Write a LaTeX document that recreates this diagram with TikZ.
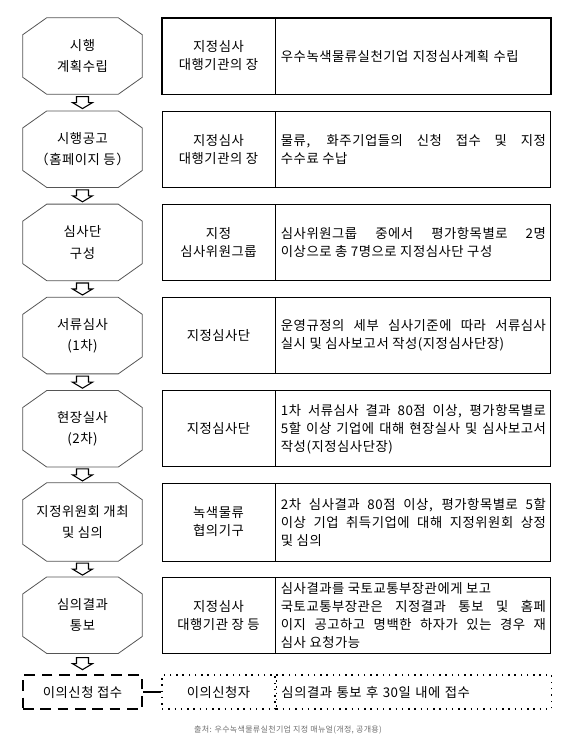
\documentclass[tikz,border=0pt]{standalone}
\usepackage{fontspec}
\setmainfont{Noto Sans CJK KR}[LetterSpace=4]
\usetikzlibrary{positioning, calc}
\definecolor{octline}{HTML}{555555}
\definecolor{notegray}{HTML}{707070}

\begin{document}
\begin{tikzpicture}[x=0.75pt, y=-0.75pt,
    every node/.style={font=\fontsize{10pt}{13.5pt}\selectfont},
    octa/.style={rectangle, minimum width=89.25pt, minimum height=57pt,
                 inner sep=0pt, align=center, font=\fontsize{10pt}{16pt}\selectfont},
    octline/.style={draw=octline, line width=0.6pt, line join=miter},
    who/.style={rectangle, draw, line width=0.7pt, minimum width=84.75pt,
                minimum height=57pt, align=center, inner sep=0pt},
    task/.style={rectangle, draw, line width=0.7pt, minimum width=206.25pt,
                 minimum height=57pt, text width=198.75pt, align=justify, inner sep=3.75pt},
    hollow/.style={draw, line width=0.8pt, fill=white, line join=miter},
    claim/.style={rectangle, draw, line width=1.8pt, dash pattern=on 8pt off 5pt,
                  minimum width=89.25pt, minimum height=25.5pt, inner sep=0pt},
    dots/.style={rectangle, draw, line width=1.1pt, dash pattern=on 1.1pt off 3.6pt,
                 minimum height=25.5pt, inner sep=3.75pt}
]
    % steps on the left
    \node[octa] (s1) at (82.5, 56) {시행\\계획수립};
    \node[octa] (s2) at (82.5, 149.2) {시행공고\\（홈페이지 등）};
    \node[octa] (s3) at (82.5, 242.4) {심사단\\구성};
    \node[octa] (s4) at (82.5, 335.6) {서류심사\\(1차)};
    \node[octa] (s5) at (82.5, 428.8) {현장실사\\(2차)};
    \node[octa, minimum height=58.5pt] (s6) at (82.5, 522) {지정위원회 개최\\및 심의};
    \node[octa] (s7) at (82.5, 615.2) {심의결과\\통보};
    \node[claim] (s8) at (82.5, 692) {이의신청 접수};
    \foreach \n in {s1,s2,s3,s4,s5,s6,s7}
        \draw[octline] ([xshift=18pt]\n.north west) -- ([xshift=-18pt]\n.north east)
            -- ([yshift=-12.75pt]\n.north east) -- ([yshift=12.75pt]\n.south east)
            -- ([xshift=-18pt]\n.south east) -- ([xshift=18pt]\n.south west)
            -- ([yshift=12.75pt]\n.south west) -- ([yshift=-12.75pt]\n.north west) -- cycle;

    % who is in charge
    \node[who] (w1) at (218.5, 56) {지정심사\\대행기관의 장};
    \node[who] (w2) at (218.5, 149.2) {지정심사\\대행기관의 장};
    \node[who] (w3) at (218.5, 242.4) {지정\\심사위원그룹};
    \node[who] (w4) at (218.5, 335.6) {지정심사단};
    \node[who] (w5) at (218.5, 428.8) {지정심사단};
    \node[who, minimum height=58.5pt] (w6) at (218.5, 522) {녹색물류\\협의기구};
    \node[who] (w7) at (218.5, 615.2) {지정심사\\대행기관 장 등};
    \node[dots, minimum width=84.75pt] (w8) at (218.5, 692) {이의신청자};

    % what is done
    \node[task, right=0pt of w1, align=left] (t1) {우수녹색물류실천기업 지정심사계획 수립};
    \node[task, right=0pt of w2] (t2) {물류, 화주기업들의 신청 접수 및 지정\linebreak 수수료 수납};
    \node[task, right=0pt of w3] (t3) {심사위원그룹 중에서 평가항목별로 2명\linebreak 이상으로 총 7명으로 지정심사단 구성};
    \node[task, right=0pt of w4] (t4) {운영규정의 세부 심사기준에 따라 서류심사\linebreak 실시 및 심사보고서 작성(지정심사단장)};
    \node[task, right=0pt of w5] (t5) {1차 서류심사 결과 80점 이상, 평가항목별로\linebreak 5할 이상 기업에 대해 현장실사 및 심사보고서\linebreak 작성(지정심사단장)};
    \node[task, minimum height=58.5pt, right=0pt of w6] (t6) {2차 심사결과 80점 이상, 평가항목별로 5할\linebreak 이상 기업 취득기업에 대해 지정위원회 상정\linebreak 및 심의};
    \node[task, right=0pt of w7] (t7) {심사결과를 국토교통부장관에게 보고\newline 국토교통부장관은 지정결과 통보 및 홈페\linebreak 이지 공고하고 명백한 하자가 있는 경우 재\linebreak 심사 요청가능};
    \node[dots, minimum width=206.25pt, text width=198.75pt, right=0pt of w8] (t8) {심의결과 통보 후 30일 내에 접수};
    \draw[line width=1.4pt] (w1.north west) rectangle (t1.south east);

    % hollow arrows between the steps
    \foreach \a/\b in {s1/s2,s2/s3,s3/s4,s4/s5,s5/s6,s6/s7,s7/s8} {
        \coordinate (m) at ($(\a.south)!0.5!(\b.north)$);
        \draw[hollow] ($(m)+(-6,-6)$) -- ($(m)+(6,-6)$) -- ($(m)+(6,0)$) -- ($(m)+(10,0)$)
            -- ($(m)+(0,6)$) -- ($(m)+(-10,0)$) -- ($(m)+(-6,0)$) -- cycle;
    }
    \draw[line width=1.8pt] (s8.east) -- (w8.west);

    \node[text=notegray, font=\fontsize{6pt}{7pt}\selectfont] (src) at (288, 730)
        {출처: 우수녹색물류실천기업 지정 매뉴얼(개정, 공개용)};
    \useasboundingbox (0,0) rectangle (580,744);
\end{tikzpicture}
\end{document}
